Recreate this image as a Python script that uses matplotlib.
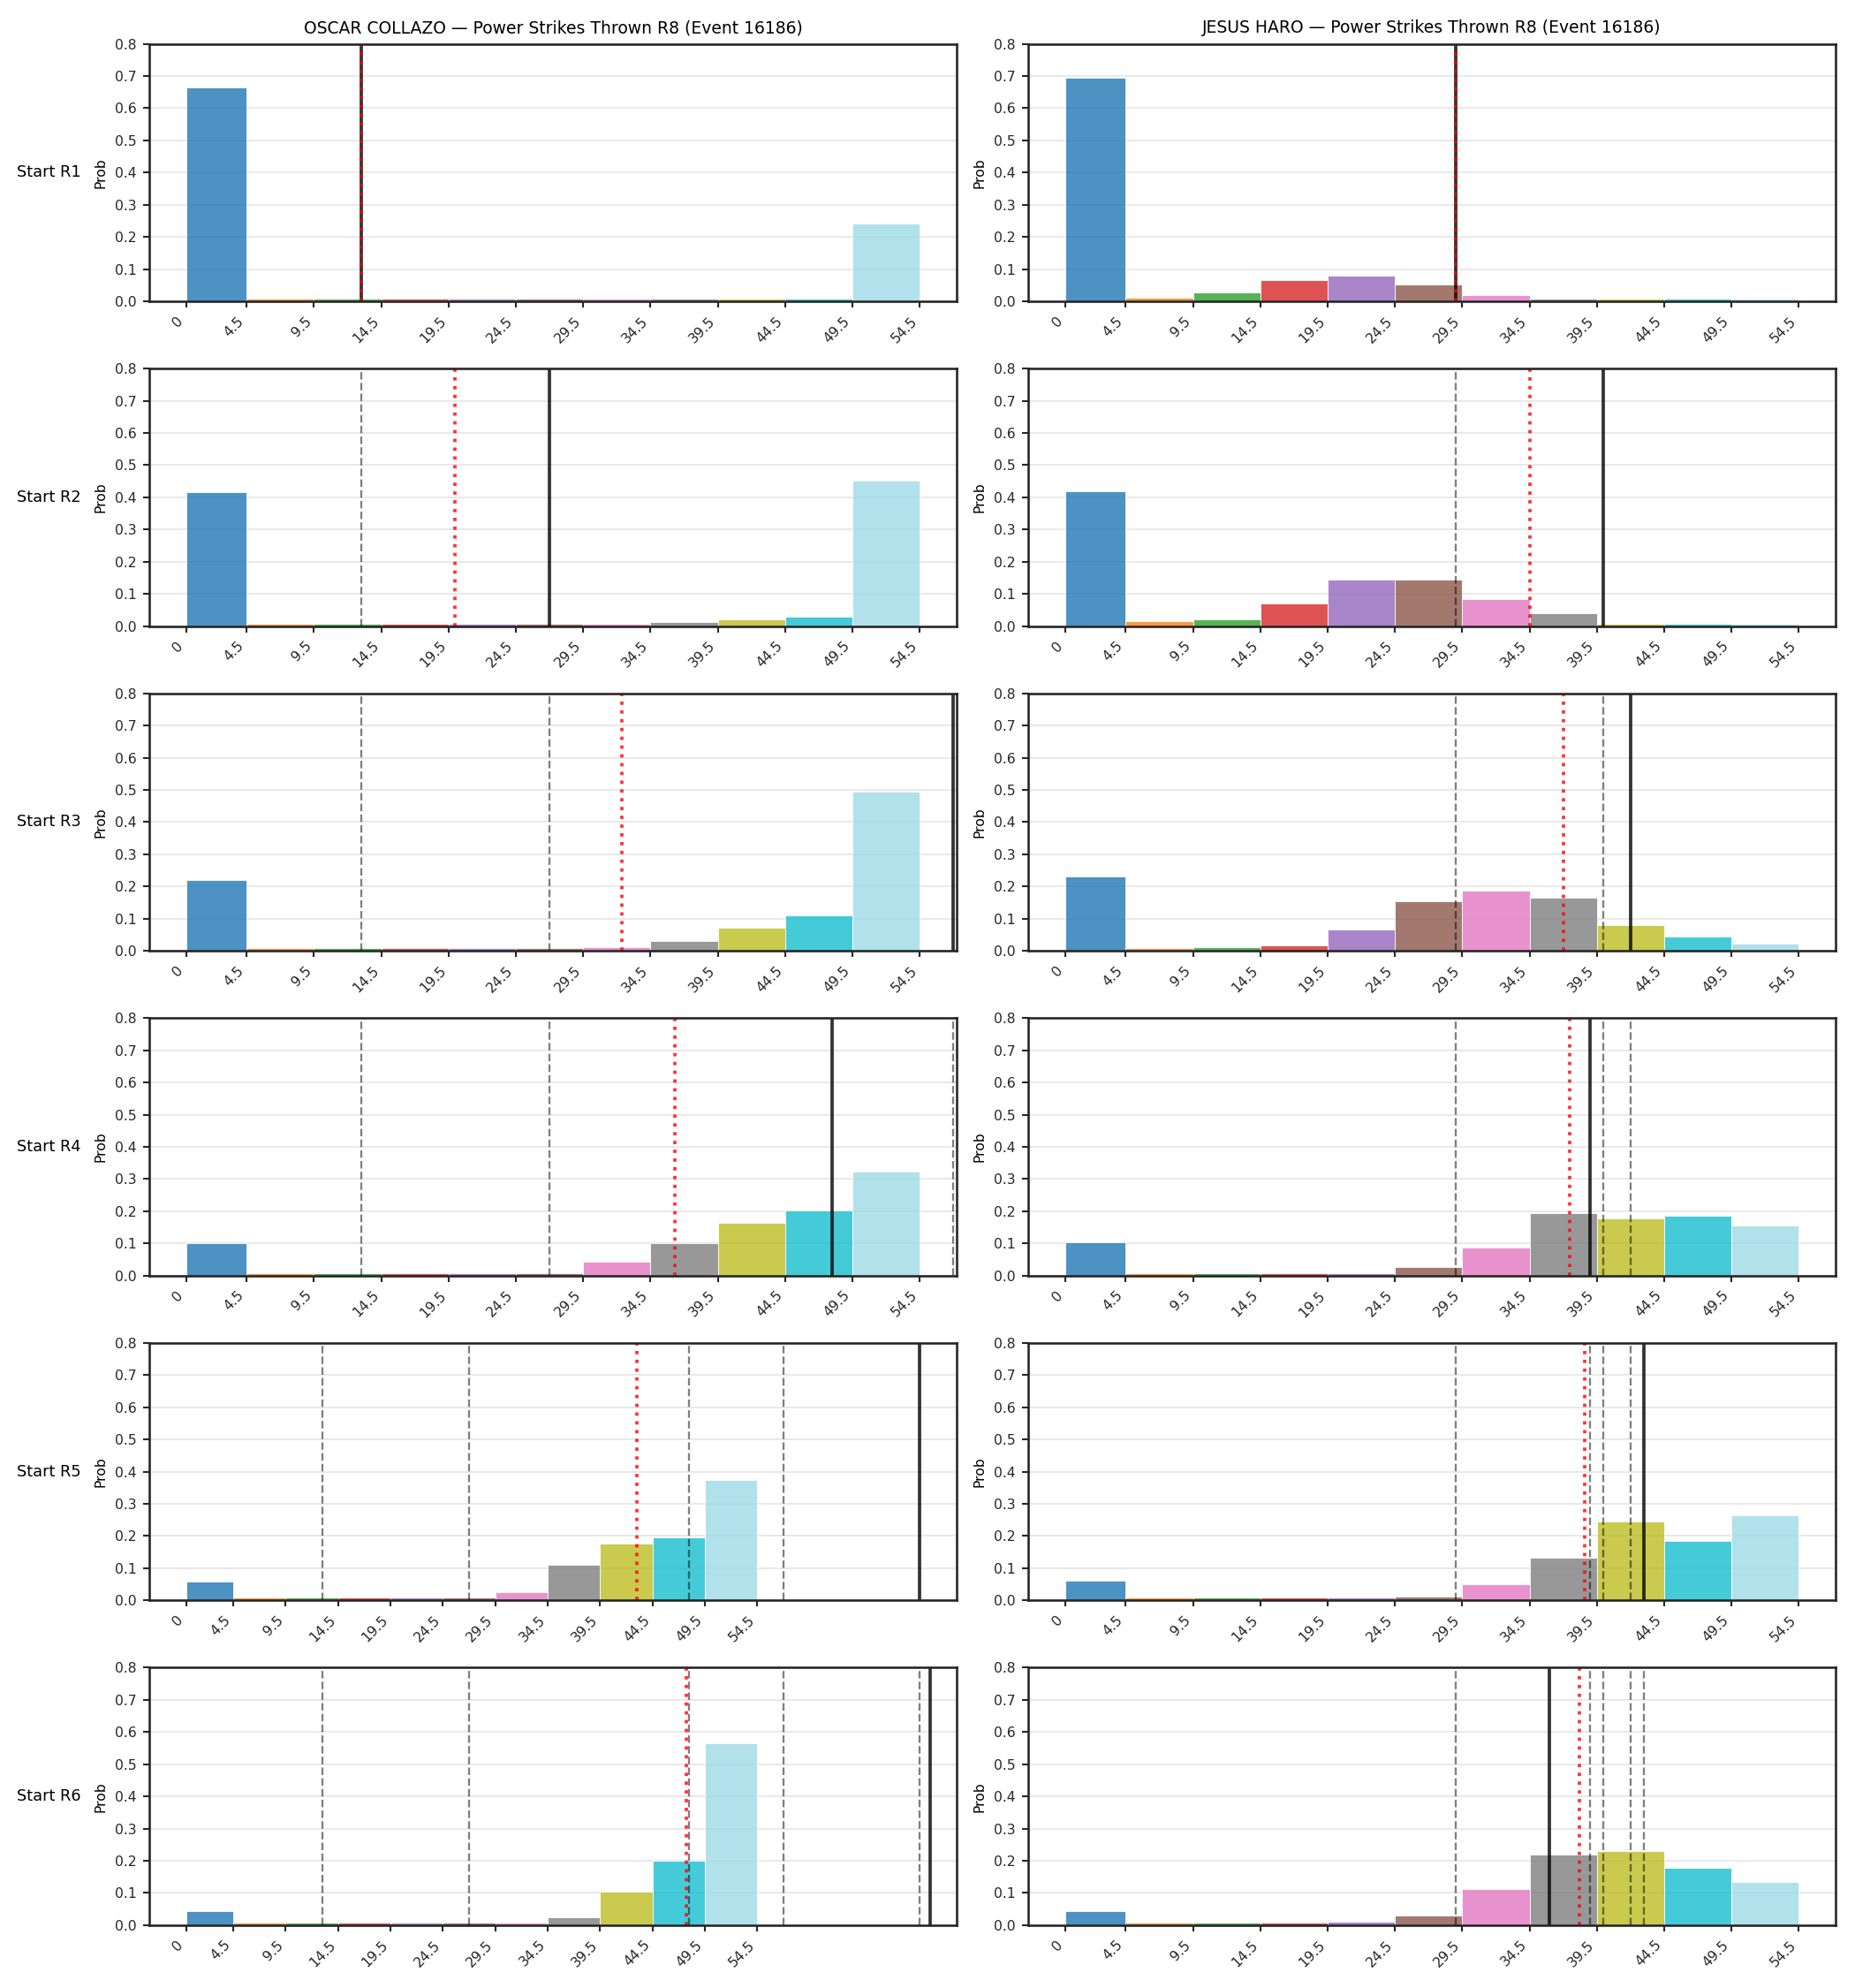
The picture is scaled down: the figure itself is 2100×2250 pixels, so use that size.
import matplotlib
matplotlib.use('Agg')
import matplotlib.pyplot as plt
import numpy as np

# bins of power strikes thrown (left edges + last right edge)
bin_edges = [0, 4.5, 9.5, 14.5, 19.5, 24.5, 29.5, 34.5, 39.5, 44.5, 49.5, 54.5]
tick_labels = ['0', '4.5', '9.5', '14.5', '19.5', '24.5', '29.5', '34.5', '39.5', '44.5', '49.5', '54.5']
rounds = ['Start R1', 'Start R2', 'Start R3', 'Start R4', 'Start R5', 'Start R6']
fighters = ['OSCAR COLLAZO', 'JESUS HARO']

# probability per bin, one list per round start
collazo_probs = [
    [0.665, 0.009, 0.009, 0.009, 0.008, 0.008, 0.008, 0.008, 0.008, 0.009, 0.241],
    [0.415, 0.007, 0.007, 0.007, 0.007, 0.007, 0.007, 0.012, 0.020, 0.028, 0.452],
    [0.220, 0.008, 0.008, 0.008, 0.008, 0.008, 0.011, 0.031, 0.073, 0.109, 0.495],
    [0.102, 0.007, 0.007, 0.007, 0.007, 0.007, 0.044, 0.102, 0.164, 0.203, 0.323],
    [0.058, 0.008, 0.008, 0.008, 0.008, 0.008, 0.025, 0.110, 0.177, 0.196, 0.373],
    [0.043, 0.007, 0.007, 0.007, 0.007, 0.007, 0.007, 0.025, 0.103, 0.199, 0.565],
]
haro_probs = [
    [0.695, 0.012, 0.027, 0.067, 0.080, 0.052, 0.019, 0.009, 0.008, 0.008, 0.008],
    [0.420, 0.016, 0.021, 0.071, 0.145, 0.145, 0.085, 0.040, 0.007, 0.007, 0.006],
    [0.231, 0.009, 0.011, 0.016, 0.066, 0.154, 0.187, 0.165, 0.080, 0.044, 0.022],
    [0.104, 0.007, 0.007, 0.007, 0.007, 0.028, 0.087, 0.195, 0.178, 0.187, 0.156],
    [0.061, 0.008, 0.008, 0.008, 0.008, 0.012, 0.050, 0.133, 0.246, 0.185, 0.263],
    [0.045, 0.007, 0.007, 0.007, 0.010, 0.031, 0.112, 0.219, 0.230, 0.179, 0.135],
]

# actual power strikes by end of each round, and expected value at start of each round
collazo_actual = [13, 27, 57, 48, 70, 71]
collazo_expected = [13.0, 20.0, 32.4, 36.3, 43.0, 47.7]
haro_actual = [29, 40, 42, 39, 43, 36]
haro_expected = [29.0, 34.5, 37.0, 37.5, 38.6, 38.2]

plt.rcParams['font.family'] = 'DejaVu Sans'
plt.rcParams['axes.edgecolor'] = '#262626'
plt.rcParams['axes.linewidth'] = 1.25
plt.rcParams['xtick.color'] = '#262626'
plt.rcParams['ytick.color'] = '#262626'
plt.rcParams['xtick.major.width'] = 1.0
plt.rcParams['ytick.major.width'] = 1.0

colors = plt.cm.tab20(np.linspace(0, 1, 11))
lefts = bin_edges[:-1]
widths = np.diff(bin_edges)

fig, axes = plt.subplots(6, 2, figsize=(14, 15), dpi=150)
fig.subplots_adjust(left=0.0805, right=0.9895, top=0.978, bottom=0.0316,
                    hspace=0.261, wspace=0.089)

all_probs = [collazo_probs, haro_probs]
all_actual = [collazo_actual, haro_actual]
all_expected = [collazo_expected, haro_expected]

for col in range(2):
    for row in range(6):
        ax = axes[row, col]
        ax.bar(lefts, all_probs[col][row], width=widths, align='edge',
               color=colors, alpha=0.8, edgecolor='white', linewidth=0.5)
        ax.set_ylim(0, 0.8)
        ax.set_yticks(np.arange(0, 0.81, 0.1))
        ax.set_xticks(bin_edges)
        ax.set_xticklabels(tick_labels, rotation=45, ha='right', fontsize=7.5)
        ax.tick_params(axis='y', labelsize=7.5)
        ax.grid(True, axis='y', color='#e5e5e5', linewidth=0.8)
        ax.set_axisbelow(True)
        ax.set_ylabel('Prob', fontsize=7.5)

        # previous rounds' actual totals
        for prev in all_actual[col][:row]:
            ax.axvline(prev, color='black', linestyle='--', linewidth=1.1, alpha=0.5)
        ax.axvline(all_actual[col][row], color='black', linewidth=1.8, alpha=0.8)
        ax.axvline(all_expected[col][row], color='red', linestyle=':', linewidth=1.8, alpha=0.8)

        if row == 0:
            ax.set_title(f'{fighters[col]} — Power Strikes Thrown R8 (Event 16186)', fontsize=9)
        if col == 0:
            ax.text(-0.085, 0.5, rounds[row], transform=ax.transAxes,
                    ha='right', va='center', fontsize=8.5)

fig.savefig('out.png', dpi=150)
